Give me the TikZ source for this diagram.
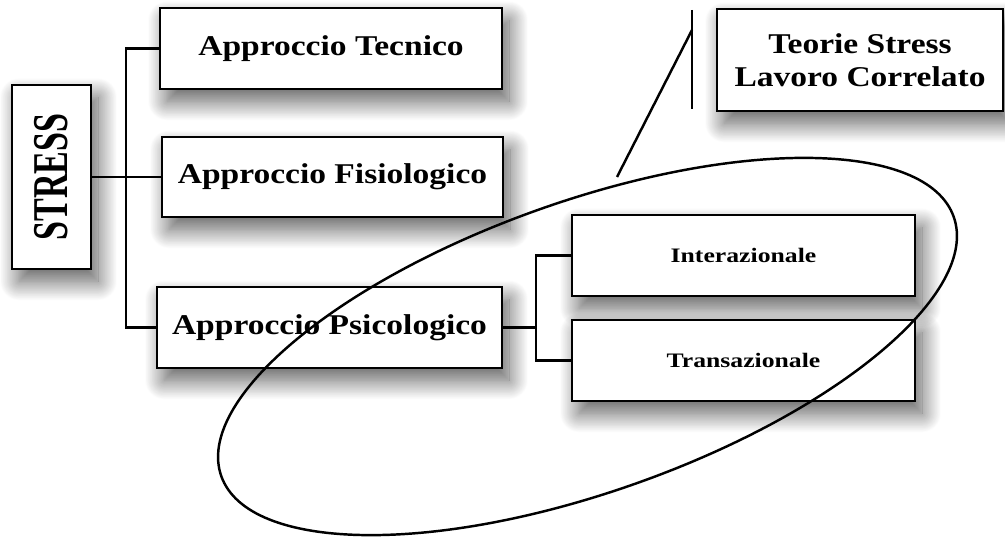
\documentclass[tikz,border=0pt]{standalone}
\usepackage{fontspec}
\usepackage{graphicx}
\setmainfont{Liberation Serif}
\newfontfamily\boxfont{Liberation Serif}[FakeStretch=1.17]
\newfontfamily\smallfont{Liberation Serif}[FakeStretch=1.25]
\newfontfamily\stressfont{Liberation Serif}[FakeStretch=0.68]
\usetikzlibrary{positioning, shadows.blur}

\begin{document}
\begin{tikzpicture}[line width=1.4pt,
  box/.style={draw, line width=1.6pt, fill=white, inner sep=0pt,
    blur shadow={shadow xshift=4pt, shadow yshift=-7pt, shadow blur radius=11pt,
      shadow blur steps=30, shadow opacity=65}},
  bigtxt/.style={font=\boxfont\bfseries\fontsize{16.3}{18.5}\selectfont, align=center},
  smalltxt/.style={font=\smallfont\bfseries\fontsize{11.7}{13}\selectfont}]
  \useasboundingbox (0,0) rectangle (20.1,10.76);

  % Radice
  \node[box, minimum width=1.58cm, minimum height=3.68cm] (stress) at (1.03,7.22)
    {\rotatebox{90}{\stressfont\bfseries\fontsize{28.5}{30}\selectfont STRESS}};

  % Approcci
  \node[box, bigtxt, minimum width=6.84cm, minimum height=1.62cm] (tecnico) at (6.62,9.79) {Approccio Tecnico};
  \node[box, bigtxt, minimum width=6.82cm, minimum height=1.60cm] (fisio) at (6.65,7.22) {Approccio Fisiologico};
  \node[box, bigtxt, minimum width=6.90cm, minimum height=1.62cm] (psico) at (6.59,4.21) {Approccio Psicologico};

  % Modelli psicologici
  \node[box, smalltxt, minimum width=6.86cm, minimum height=1.62cm] (inter) at (14.87,5.65) {Interazionale};
  \node[box, smalltxt, minimum width=6.86cm, minimum height=1.62cm] (trans) at (14.87,3.55) {Transazionale};

  % Teorie
  \node[box, bigtxt, minimum width=5.72cm, minimum height=2.04cm] (teorie) at (17.2,9.56) {Teorie Stress\\Lavoro Correlato};

  % Collegamenti
  \coordinate (trunk) at (2.52,0);
  \coordinate (fork) at (10.72,0);
  \draw (stress.east) -- (fisio.west);
  \draw (tecnico.west) -- (tecnico.west -| trunk) |- (psico.west);
  \draw (psico.east) -- (psico.east -| fork);
  \draw (inter.west) -- (inter.west -| fork) |- (trans.west);

  % Richiamo
  \coordinate (bartop) at (13.84,10.56);
  \coordinate (barbot) at (13.84,8.58);
  \coordinate (barjoin) at (13.84,10.16);
  \coordinate (tail) at (12.34,7.22);
  \draw (bartop) -- (barbot);
  \draw (barjoin) -- (tail);

  % Ellisse
  \draw[rotate around={19.5:(11.75,3.83)}] (11.75,3.83) ellipse (7.77cm and 2.906cm);
\end{tikzpicture}
\end{document}
